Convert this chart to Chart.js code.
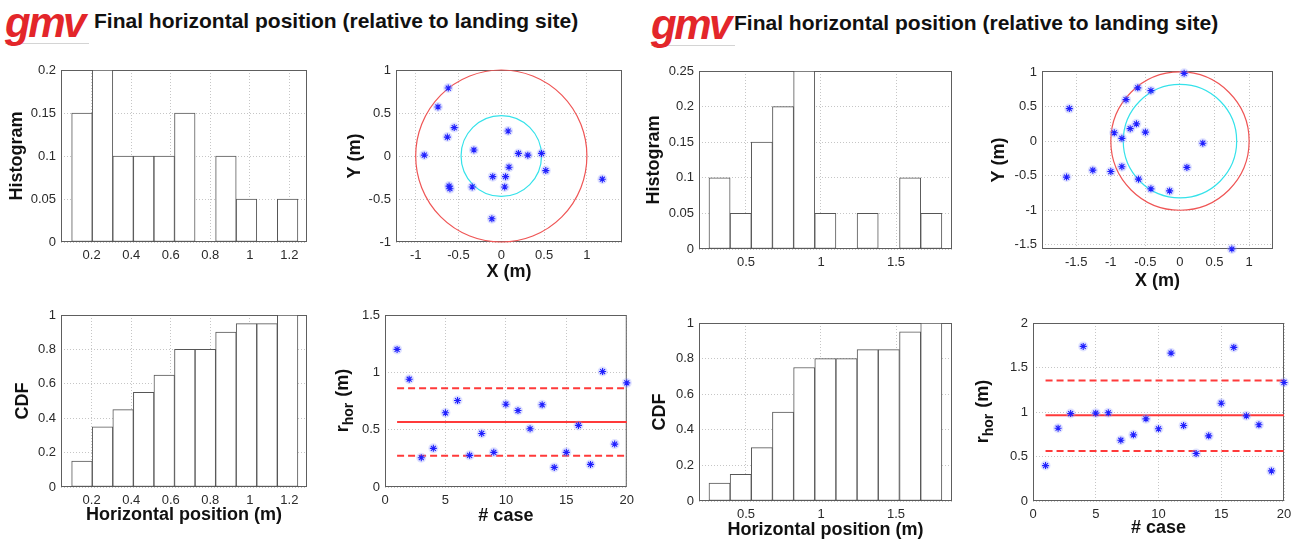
<!DOCTYPE html>
<html>
<head>
<meta charset="utf-8">
<script src="https://cdn.jsdelivr.net/npm/chart.js@4.4.0/dist/chart.umd.min.js"></script>
<style>
  body { margin: 0; width: 1299px; height: 542px; background: #fff; position: relative; overflow: hidden; }
  canvas { position: absolute; }
  .logo { position: absolute; color: #e3262a; font: italic bold 42px "Liberation Sans", Arial, sans-serif; letter-spacing: -2.5px; line-height: 34px; border-bottom: 1px solid #d4d4d4; padding-bottom: 3px; }
  .head { position: absolute; font: bold 21px "Liberation Sans", Arial, sans-serif; color: #111; white-space: nowrap; }
</style>
</head>
<body>
<div class="logo" style="left:5px;top:6px;width:84px;">gmv</div>
<div class="head" style="left:94px;top:9px;">Final horizontal position (relative to landing site)</div>
<div class="logo" style="left:651px;top:8px;width:84px;">gmv</div>
<div class="head" style="left:734px;top:11px;">Final horizontal position (relative to landing site)</div>
<script>
const FAMILY = '"Liberation Sans", Arial, sans-serif';

// ---- left run ----
const histBinsL = [0.151, 0.255, 0.359, 0.463, 0.567, 0.671, 0.775, 0.879, 0.983, 1.087, 1.191];
const histFreqL = [0.15, 0.2, 0.1, 0.1, 0.1, 0.15, 0, 0.1, 0.05, 0, 0.05];
const cdfL = [0.15, 0.35, 0.45, 0.55, 0.65, 0.8, 0.8, 0.9, 0.95, 0.95, 1];
const posXL = [-0.62, -0.74, -0.55, -0.63, -0.90, -0.32, 0.08, 0.20, 0.31, 0.47, 0.52, 0.09, 0.05, -0.10, 0.04, -0.34, -0.61, -0.60, -0.11, 1.18];
const posYL = [0.79, 0.57, 0.33, 0.22, 0.01, 0.07, 0.29, 0.03, 0.01, 0.03, -0.17, -0.13, -0.24, -0.24, -0.36, -0.36, -0.35, -0.38, -0.73, -0.27];
const rHorL = [1.20, 0.94, 0.255, 0.337, 0.647, 0.754, 0.276, 0.467, 0.302, 0.722, 0.667, 0.508, 0.717, 0.171, 0.302, 0.537, 0.197, 1.007, 0.374, 0.908];
const rBandL = [0.273, 0.566, 0.862];   // mean - sigma, mean, mean + sigma
const ringsL = [1, 0.47];

// ---- right run ----
const histBinsR = [0.324, 0.465, 0.606, 0.747, 0.888, 1.029, 1.170, 1.311, 1.452, 1.594, 1.735];
const histFreqR = [0.1, 0.05, 0.15, 0.2, 0.25, 0.05, 0, 0.05, 0, 0.1, 0.05];
const cdfR = [0.1, 0.15, 0.3, 0.5, 0.75, 0.8, 0.8, 0.85, 0.85, 0.95, 1];
const posXR = [0.06, -0.61, -0.42, -0.78, -1.60, -0.63, -0.72, -0.50, -0.95, -0.84, 0.33, 0.10, -0.84, -1.26, -1.00, -1.64, -0.60, -0.42, -0.15, 0.75];
const posYR = [0.98, 0.77, 0.73, 0.60, 0.47, 0.25, 0.18, 0.13, 0.12, 0.04, -0.03, -0.38, -0.37, -0.42, -0.44, -0.52, -0.55, -0.69, -0.72, -1.56];
const rHorR = [0.398, 0.818, 0.983, 1.737, 0.987, 0.991, 0.683, 0.743, 0.923, 0.811, 1.662, 0.848, 0.533, 0.732, 1.099, 1.726, 0.957, 0.856, 0.338, 1.332];
const rBandR = [0.563, 0.964, 1.355];
const ringsR = [1, 0.82];

const cases = [1, 2, 3, 4, 5, 6, 7, 8, 9, 10, 11, 12, 13, 14, 15, 16, 17, 18, 19, 20];

// tick labels
const histTicksXL = [0.2, 0.4, 0.6, 0.8, 1, 1.2];
const histTicksYL = [0, 0.05, 0.1, 0.15, 0.2];
const histTicksXR = [0.5, 1, 1.5];
const histTicksYR = [0, 0.05, 0.1, 0.15, 0.2, 0.25];
const cdfTicksY = [0, 0.2, 0.4, 0.6, 0.8, 1];
const posTicksL = [-1, -0.5, 0, 0.5, 1];
const posTicksR = [-1.5, -1, -0.5, 0, 0.5, 1];
const caseTicks = [0, 5, 10, 15, 20];
const rTicksL = [0, 0.5, 1, 1.5];
const rTicksR = [0, 0.5, 1, 1.5, 2];

const ringColors = ['#ef5555', '#35e2ea'];

// axes box drawn round the plot area
const frame = {
  id: 'frame',
  beforeDatasetsDraw(chart) {
    const { ctx, chartArea: a } = chart;
    ctx.save();
    ctx.strokeStyle = '#5e5e5e';
    ctx.lineWidth = 1;
    ctx.strokeRect(a.left + 0.5, a.top + 0.5, a.width - 1, a.height - 1);
    ctx.restore();
  }
};

// circles centred on the landing site, radius in data units
const rings = {
  id: 'rings',
  defaults: { radii: [] },
  beforeDatasetsDraw(chart, args, opts) {
    const { ctx, scales: { x, y } } = chart;
    const cx = x.getPixelForValue(0), cy = y.getPixelForValue(0);
    opts.radii.forEach((r, i) => {
      ctx.save();
      ctx.beginPath();
      ctx.ellipse(cx, cy, Math.abs(x.getPixelForValue(r) - cx), Math.abs(y.getPixelForValue(r) - cy), 0, 0, 2 * Math.PI);
      ctx.strokeStyle = ringColors[i];
      ctx.lineWidth = 1.2;
      ctx.stroke();
      ctx.restore();
    });
  }
};

// y title with a subscript (r_hor)
const subLabel = {
  id: 'subLabel',
  defaults: { x: null },
  afterDraw(chart, args, o) {
    if (o.x === null) return;
    const { ctx, chartArea: a } = chart;
    const big = 'bold 18px ' + FAMILY, small = 'bold 14px ' + FAMILY;
    ctx.save();
    ctx.font = big;
    const w1 = ctx.measureText(o.main).width, w3 = ctx.measureText(o.tail).width;
    ctx.font = small;
    const w2 = ctx.measureText(o.sub).width;
    ctx.translate(o.x, (a.top + a.bottom) / 2);
    ctx.rotate(-Math.PI / 2);
    ctx.fillStyle = '#111';
    ctx.textBaseline = 'middle';
    ctx.textAlign = 'left';
    let s = -(w1 + w2 + w3) / 2;
    ctx.font = big; ctx.fillText(o.main, s, 0); s += w1;
    ctx.font = small; ctx.fillText(o.sub, s, 6); s += w2 + 1;
    ctx.font = big; ctx.fillText(o.tail, s, 0);
    ctx.restore();
  }
};

Chart.register(frame, rings, subLabel);

const tickFont = { family: FAMILY, size: 13 };
const titleFont = { family: FAMILY, size: 18, weight: 'bold' };
const HALF_LH = 18 * 1.2 / 2;

function axis(horiz, range, ticks, cv, box, title) {
  const s = {
    type: 'linear', min: range[0], max: range[1], offset: false,
    grid: { color: '#c6c6c6', lineWidth: 1, drawTicks: false, offset: false },
    border: { display: false, dash: [1, 2] },
    ticks: { color: '#2a2a2a', font: tickFont, padding: horiz ? 6 : 5, maxRotation: 0, autoSkip: false, callback: v => String(v) },
    afterBuildTicks: sc => { sc.ticks = ticks.map(v => ({ value: v })); },
    afterFit: sc => {
      if (horiz) sc.height = cv.y + cv.h - box.b;
      else sc.width = box.l - cv.x;
    }
  };
  if (title) {
    // bottom titles are offset from the canvas bottom, left titles from the canvas left
    const padding = horiz
      ? { top: 0, bottom: cv.y + cv.h - title.at - HALF_LH }
      : { top: title.at - cv.x - HALF_LH, bottom: 0 };
    s.title = { display: true, text: title.text, font: titleFont, color: '#111', padding };
  }
  return s;
}

function makeChart(p) {
  const el = document.createElement('canvas');
  el.width = p.cv.w; el.height = p.cv.h;
  el.style.left = p.cv.x + 'px'; el.style.top = p.cv.y + 'px';
  document.body.appendChild(el);
  return new Chart(el, {
    type: p.type,
    data: { datasets: p.datasets },
    options: {
      responsive: false, animation: false, events: [],
      layout: { autoPadding: false, padding: { left: 0, bottom: 0, top: p.box.t - p.cv.y, right: p.cv.x + p.cv.w - p.box.r } },
      scales: {
        x: axis(true, p.xr, p.xt, p.cv, p.box, p.xTitle),
        y: axis(false, p.yr, p.yt, p.cv, p.box, p.yTitle)
      },
      plugins: {
        legend: { display: false }, tooltip: { enabled: false },
        rings: { radii: p.radii || [] },
        subLabel: p.sub ? { main: 'r', sub: 'hor', tail: ' (m)', x: p.sub - p.cv.x } : { x: null }
      }
    }
  });
}

function bars(centers, values) {
  return [{
    data: centers.map((c, i) => ({ x: c, y: values[i] })),
    backgroundColor: '#ffffff', borderColor: '#565656', borderWidth: 1,
    barPercentage: 1, categoryPercentage: 1, borderSkipped: false
  }];
}

function stars(xs, ys) {
  const pts = xs.map((v, i) => ({ x: v, y: ys[i] }));
  return [
    { data: pts, pointStyle: 'star', pointRadius: 3.5, borderColor: '#2020ff', borderWidth: 1.1, clip: false },
    { data: pts, pointStyle: 'circle', pointRadius: 5, backgroundColor: 'rgba(150,160,255,0.3)', borderWidth: 0, clip: false }
  ];
}

function bandLines(band) {
  return band.map((v, i) => ({
    data: [{ x: cases[0], y: v }, { x: cases[cases.length - 1], y: v }],
    showLine: true, pointRadius: 0, borderColor: '#ff3a3a', borderWidth: 2,
    borderDash: i === 1 ? [] : [7, 4], clip: false
  }));
}

// left column pair
makeChart({ type: 'bar', cv: { x: 0, y: 55, w: 320, h: 240 }, box: { l: 61, t: 70, r: 307, b: 242 },
  xr: [0.045, 1.289], xt: histTicksXL, yr: [0, 0.2], yt: histTicksYL,
  yTitle: { text: 'Histogram', at: 17 }, datasets: bars(histBinsL, histFreqL) });

makeChart({ type: 'scatter', cv: { x: 320, y: 55, w: 320, h: 240 }, box: { l: 396, t: 70, r: 622, b: 242 },
  xr: [-1.23, 1.41], xt: posTicksL, yr: [-1, 1], yt: posTicksL,
  yTitle: { text: 'Y (m)', at: 355 }, xTitle: { text: 'X (m)', at: 272 },
  radii: ringsL, datasets: stars(posXL, posYL) });

makeChart({ type: 'bar', cv: { x: 0, y: 295, w: 320, h: 247 }, box: { l: 61, t: 315, r: 307, b: 487 },
  xr: [0.045, 1.289], xt: histTicksXL, yr: [0, 1], yt: cdfTicksY,
  yTitle: { text: 'CDF', at: 23 }, xTitle: { text: 'Horizontal position (m)', at: 515 },
  datasets: bars(histBinsL, cdfL) });

makeChart({ type: 'scatter', cv: { x: 320, y: 295, w: 320, h: 247 }, box: { l: 385, t: 315, r: 633, b: 487 },
  xr: [0, 20], xt: caseTicks, yr: [0, 1.5], yt: rTicksL,
  sub: 343, xTitle: { text: '# case', at: 516 },
  datasets: stars(cases, rHorL).concat(bandLines(rBandL)) });

// right column pair
makeChart({ type: 'bar', cv: { x: 640, y: 55, w: 335, h: 240 }, box: { l: 699, t: 71, r: 952, b: 249 },
  xr: [0.187, 1.873], xt: histTicksXR, yr: [0, 0.25], yt: histTicksYR,
  yTitle: { text: 'Histogram', at: 654 }, datasets: bars(histBinsR, histFreqR) });

makeChart({ type: 'scatter', cv: { x: 975, y: 55, w: 324, h: 240 }, box: { l: 1042, t: 71, r: 1273, b: 249 },
  xr: [-1.995, 1.345], xt: posTicksR, yr: [-1.56, 1.014], yt: posTicksR,
  yTitle: { text: 'Y (m)', at: 999 }, xTitle: { text: 'X (m)', at: 281 },
  radii: ringsR, datasets: stars(posXR, posYR) });

makeChart({ type: 'bar', cv: { x: 640, y: 295, w: 335, h: 247 }, box: { l: 699, t: 323, r: 952, b: 501 },
  xr: [0.187, 1.873], xt: histTicksXR, yr: [0, 1], yt: cdfTicksY,
  yTitle: { text: 'CDF', at: 660 }, xTitle: { text: 'Horizontal position (m)', at: 530 },
  datasets: bars(histBinsR, cdfR) });

makeChart({ type: 'scatter', cv: { x: 975, y: 295, w: 324, h: 247 }, box: { l: 1033, t: 323, r: 1284, b: 501 },
  xr: [0, 20], xt: caseTicks, yr: [0, 2], yt: rTicksR,
  sub: 983, xTitle: { text: '# case', at: 528 },
  datasets: stars(cases, rHorR).concat(bandLines(rBandR)) });
</script>
</body>
</html>
